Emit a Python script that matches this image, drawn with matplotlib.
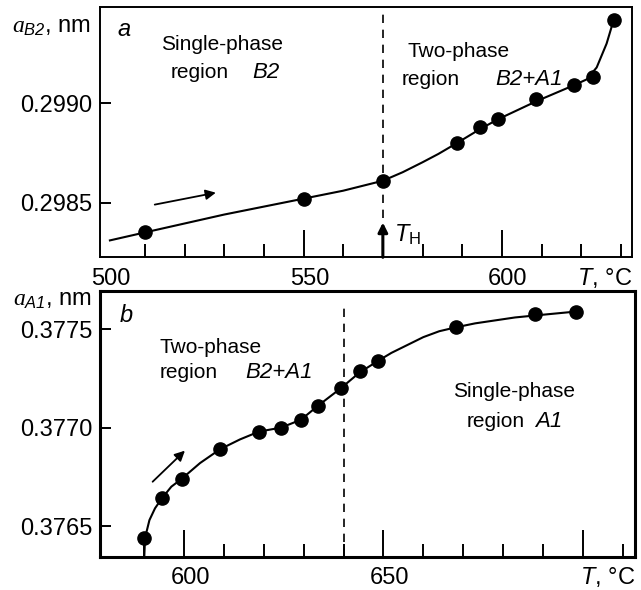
import numpy as np
import matplotlib
matplotlib.use('Agg')
import matplotlib.pyplot as plt
import matplotlib.transforms as mtransforms

plt.rcParams['font.family'] = ['Liberation Sans', 'DejaVu Sans']
plt.rcParams['mathtext.fontset'] = 'custom'
plt.rcParams['mathtext.rm'] = 'Liberation Sans'
plt.rcParams['mathtext.it'] = 'Liberation Serif:italic'
plt.rcParams['mathtext.sf'] = 'Liberation Sans:italic'

# --- panel a: B2 lattice parameter ---
t_b2 = [510, 550, 570, 588.7, 594.5, 599.1, 608.7, 618.1, 623.0, 628.2]
a_b2 = [0.29835, 0.29852, 0.29861, 0.29880, 0.29888, 0.29892, 0.29902, 0.29909, 0.29913, 0.29942]
# hand-drawn fit line
t_b2_fit = [501.2, 510, 530, 550, 560, 570, 575, 580, 584, 588.7, 594.5, 599.1, 608.7, 618.1,
            621.4, 623.9, 626.4, 628.2]
a_b2_fit = [0.29831, 0.29835, 0.29844, 0.29852, 0.29856, 0.29861, 0.298653, 0.298703, 0.298745,
            0.29880, 0.29887, 0.29892, 0.29901, 0.29909, 0.29912, 0.29918, 0.29930, 0.29942]
t_h = 570

# --- panel b: A1 lattice parameter ---
t_a1 = [590, 594.4, 599.4, 609.0, 618.8, 624.3, 629.3, 633.5, 639.3, 644.0, 648.7, 668.2, 688.0, 698.3]
a_a1 = [0.37644, 0.37664, 0.37674, 0.37689, 0.37698, 0.37700, 0.37704, 0.37711, 0.37720, 0.37729,
        0.37734, 0.37751, 0.37758, 0.37759]
t_a1_fit = [590, 590.2, 591.3, 592.7, 594.4, 596.8, 599.4, 604, 609, 614, 618.8, 624.3, 629.3, 633.5,
            639.3, 644.0, 648.7, 652, 656, 660, 664, 668.2, 673, 678, 683, 688, 698.3]
a_a1_fit = [0.37634, 0.37644, 0.37653, 0.37659, 0.37664, 0.37670, 0.37674, 0.37682, 0.37689, 0.37694,
            0.37698, 0.37700, 0.37704, 0.37711, 0.37720, 0.37728, 0.37734, 0.37738, 0.37742, 0.37746,
            0.37749, 0.37751, 0.37753, 0.377545, 0.37756, 0.37757, 0.37759]
t_boundary = 640

W, H = 641, 590
fig = plt.figure(figsize=(W / 100, H / 100), dpi=100)


def px_axes(l, t, r, b):
    return fig.add_axes([l / W, 1 - b / H, (r - l) / W, (b - t) / H])


def px_text(x, y, s, **kw):
    fig.text(x / W, 1 - y / H, s, ha='left', va='baseline', **kw)


def style_axes(ax, spine_w):
    for sp in ax.spines.values():
        sp.set_linewidth(spine_w)
    ax.tick_params(which='both', direction='in', width=1.4, top=False, right=False,
                   labelsize=17, color='k')
    ax.tick_params(axis='x', which='major', length=19.5, pad=7.5)
    ax.tick_params(axis='x', which='minor', length=9.5)
    ax.tick_params(axis='y', which='major', length=8, pad=5.5)
    # tick labels sit a bit right of their ticks in the original
    off = mtransforms.ScaledTranslation(0.06, 0, fig.dpi_scale_trans)
    for lab in ax.get_xticklabels():
        lab.set_transform(lab.get_transform() + off)


ax1 = px_axes(100, 7, 632, 257.3)
ax2 = px_axes(100, 290.7, 635, 556.7)

# ---- panel a ----
ax1.plot(t_b2_fit, a_b2_fit, color='k', lw=1.5, zorder=2)
ax1.plot(t_b2, a_b2, 'o', color='k', ms=9.5, zorder=3)
ax1.axvline(t_h, ymin=0.157, ymax=0.976, color='k', lw=1.2, ls=(0, (5, 4)))
ax1.annotate('', xy=(t_h, 0.29840), xytext=(t_h, 0.298225),
             arrowprops=dict(arrowstyle='-|>', lw=2.2, color='k', mutation_scale=14,
                             shrinkA=0, shrinkB=0))
ax1.annotate('', xy=(527.9, 0.29855), xytext=(512.5, 0.29849),
             arrowprops=dict(arrowstyle='-|>', lw=1.3, color='k', mutation_scale=15,
                             shrinkA=0, shrinkB=0))
ax1.set_xlim(498.7, 632.8)
ax1.set_ylim(0.298225, 0.299484)
ax1.set_xticks([500, 550, 600])
ax1.set_xticklabels(['500', '550', '600'])
ax1.set_xticks([t for t in range(510, 640, 10) if t % 50 != 0], minor=True)
ax1.set_yticks([0.2985, 0.2990])
ax1.set_yticklabels(['0.2985', '0.2990'])
style_axes(ax1, 1.4)
ax1.xaxis.get_major_ticks()[0].tick1line.set_visible(False)

# ---- panel b ----
ax2.plot(t_a1_fit, a_a1_fit, color='k', lw=1.5, zorder=2)
ax2.plot(t_a1, a_a1, 'o', color='k', ms=9.5, zorder=3)
ax2.axvline(t_boundary, ymin=0, ymax=0.94, color='k', lw=1.2, ls=(0, (5, 4)))
ax2.annotate('', xy=(600.2, 0.376883), xytext=(592.1, 0.376725),
             arrowprops=dict(arrowstyle='-|>', lw=1.3, color='k', mutation_scale=15,
                             shrinkA=0, shrinkB=0))
ax2.set_xlim(578.9, 713.1)
ax2.set_ylim(0.376344, 0.377696)
ax2.set_xticks([600, 650, 700])
ax2.set_xticklabels(['600', '650', ''])
ax2.set_xticks([t for t in range(590, 720, 10) if t % 50 != 0], minor=True)
ax2.set_yticks([0.3765, 0.3770, 0.3775])
ax2.set_yticklabels(['0.3765', '0.3770', '0.3775'])
style_axes(ax2, 2.2)

# ---- text ----
it = dict(fontstyle='italic')
px_text(12, 33, r'$a_{\mathsf{B2}}$, nm', fontsize=17)
px_text(117, 36, 'a', fontsize=17, **it)
px_text(161, 50, 'Single-phase', fontsize=15)
px_text(171, 78, 'region', fontsize=15)
px_text(252, 78, 'B2', fontsize=16, **it)
px_text(408, 57, 'Two-phase', fontsize=15)
px_text(402, 85, 'region', fontsize=15)
px_text(495, 85, 'B2+A1', fontsize=16, **it)
px_text(394, 242, r'$\mathsf{T}_\mathrm{H}$', fontsize=17)
fig.text(632 / W, 1 - 285 / H, r'$\mathsf{T}$, °C', ha='right', va='baseline', fontsize=17)

px_text(13, 306, r'$a_{\mathsf{A1}}$, nm', fontsize=17)
px_text(120, 322, 'b', fontsize=17, **it)
px_text(160, 353, 'Two-phase', fontsize=15)
px_text(160, 378, 'region', fontsize=15)
px_text(245, 378, 'B2+A1', fontsize=16, **it)
px_text(453, 397, 'Single-phase', fontsize=15)
px_text(467, 427, 'region', fontsize=15)
px_text(535, 427, 'A1', fontsize=16, **it)
fig.text(635 / W, 1 - 584 / H, r'$\mathsf{T}$, °C', ha='right', va='baseline', fontsize=17)

fig.savefig('out.png', dpi=100)
